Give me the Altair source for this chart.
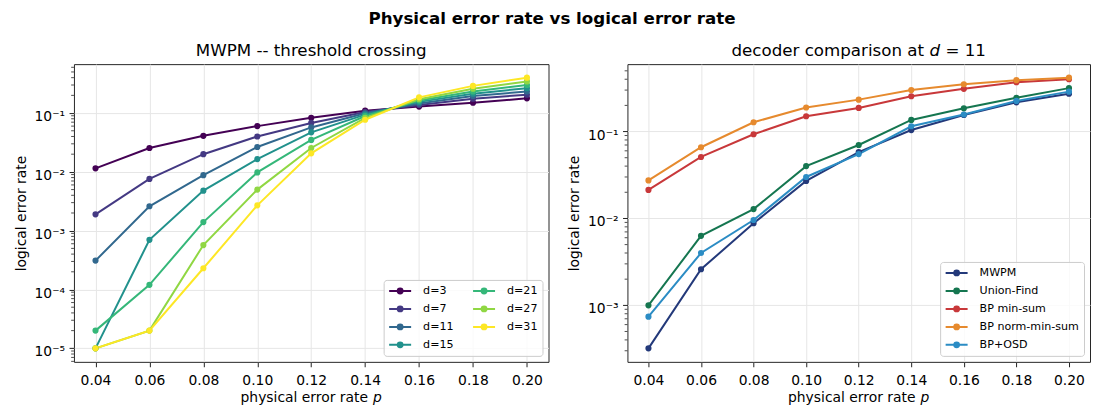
import altair as alt
import numpy as np
import pandas as pd

# ---------------- data ----------------
p_values = [0.04, 0.06, 0.08, 0.10, 0.12, 0.14, 0.16, 0.18, 0.20]

d_labels = ["d=3", "d=7", "d=11", "d=15", "d=21", "d=27", "d=31"]
rate_d3 = [0.0115, 0.0255, 0.041, 0.060, 0.083, 0.110, 0.129, 0.150, 0.178]
rate_d7 = [0.0019, 0.0076, 0.020, 0.040, 0.068, 0.104, 0.137, 0.176, 0.205]
rate_d11 = [0.00031, 0.0026, 0.0088, 0.0265, 0.057, 0.099, 0.145, 0.195, 0.233]
rate_d15 = [1.0e-5, 0.00070, 0.0048, 0.0165, 0.047, 0.094, 0.155, 0.214, 0.265]
rate_d21 = [2.0e-5, 0.00012, 0.0014, 0.0098, 0.035, 0.089, 0.163, 0.233, 0.300]
rate_d27 = [1.0e-5, 2.0e-5, 0.00057, 0.0050, 0.0255, 0.083, 0.172, 0.260, 0.345]
rate_d31 = [1.0e-5, 2.0e-5, 0.00023, 0.0027, 0.0207, 0.077, 0.185, 0.290, 0.400]
d_colors = ["#440154", "#443983", "#31688e", "#21918c", "#35b779", "#90d743", "#fde725"]

dec_labels = ["MWPM", "Union-Find", "BP min-sum", "BP norm-min-sum", "BP+OSD"]
rate_mwpm = [0.00032, 0.0026, 0.0088, 0.027, 0.058, 0.104, 0.155, 0.217, 0.273]
rate_uf = [0.0010, 0.0063, 0.0128, 0.040, 0.070, 0.136, 0.185, 0.245, 0.316]
rate_bp_ms = [0.0213, 0.051, 0.093, 0.150, 0.187, 0.255, 0.310, 0.370, 0.400]
rate_bp_nms = [0.0274, 0.066, 0.128, 0.189, 0.233, 0.300, 0.350, 0.390, 0.417]
rate_bp_osd = [0.00074, 0.0040, 0.0096, 0.030, 0.055, 0.115, 0.157, 0.225, 0.288]
dec_colors = ["#23397a", "#157650", "#c8383a", "#e68a2e", "#2b8cc4"]

suptitle = "Physical error rate vs logical error rate"
left_title = "MWPM -- threshold crossing"
right_title_parts = ["decoder comparison at", "d", "= 11"]
xtitle_parts = ["physical error rate", "p"]
ytitle = "logical error rate"

# ---------------- layout constants ----------------
FONT = "DejaVu Sans"
H = 298
W_L = 475
W_R = 463
GAP = 79
FS_TICK = 13.9
FS_TITLE = 16.7
FS_LEG = 11.1


def long_df(labels, series, key):
    rows = []
    for lab, vals in zip(labels, series):
        for p, r in zip(p_values, vals):
            rows.append({"p": p, "rate": r, key: lab})
    return pd.DataFrame(rows)


span = p_values[-1] - p_values[0]
XDOM = [p_values[0] - 0.05 * span, p_values[-1] + 0.05 * span]


def log_domain(values):
    lo = np.log10(min(values))
    hi = np.log10(max(values))
    m = 0.05 * (hi - lo)
    return [float(10 ** (lo - m)), float(10 ** (hi + m))]


SUP_EXPR = "'10\u207b' + ['\u2070','\u00b9','\u00b2','\u00b3','\u2074','\u2075','\u2076','\u2077','\u2078'][round(-log(datum.value)/LN10)]"

LEG_PATH = ("M-2,0L2,0"
            "M0.44,0A0.44,0.44,0,1,1,-0.44,0A0.44,0.44,0,1,1,0.44,0"
            "M0.16,0A0.16,0.16,0,1,1,-0.16,0A0.16,0.16,0,1,1,0.16,0")


def text_layer(txt, x, y, size, align="left", style="normal"):
    return alt.Chart(pd.DataFrame({"t": [txt]})).mark_text(
        align=align, baseline="alphabetic", fontSize=size, font=FONT,
        fontStyle=style, color="black"
    ).encode(text="t:N", x=alt.value(x), y=alt.value(y))


# DejaVu Sans advance widths (em) for centring composed texts
def em_width(s):
    w = {"a": .613, "b": .635, "c": .550, "d": .635, "e": .615, "f": .352, "g": .635,
         "h": .634, "i": .278, "l": .278, "m": .974, "n": .634, "o": .612, "p": .635,
         "r": .411, "s": .521, "t": .392, "u": .634, "y": .592, " ": .318, "=": .838,
         "1": .636}
    return sum(w.get(ch, .6) for ch in s)


def make_panel(df, key, labels, colors, columns, width, title_layers):
    ydom = log_domain(df["rate"])
    ymajor = [10.0 ** k for k in range(-8, 1) if ydom[0] <= 10.0 ** k <= ydom[1]]
    yminor = [m * 10.0 ** k for k in range(-8, 0) for m in range(2, 10)
              if ydom[0] <= m * 10.0 ** k <= ydom[1]]
    xs = alt.Scale(domain=XDOM, nice=False, zero=False)
    ys = alt.Scale(type="log", domain=ydom, nice=False)
    xaxis = alt.Axis(values=p_values, format=".2f", title=None, grid=True,
                     labelFlush=False, labelOverlap=False)
    yaxis = alt.Axis(values=ymajor, labelExpr=SUP_EXPR, title=ytitle, grid=True,
                     labelOverlap=False)

    cs = alt.Scale(domain=labels, range=colors)
    leg = alt.Legend(title=None, orient="bottom-right", offset=6, columns=columns,
                     columnPadding=15, rowPadding=5.0, padding=4.5,
                     fillColor="rgba(255,255,255,0.8)", strokeColor="#cccccc",
                     cornerRadius=3, symbolType=LEG_PATH, symbolSize=121,
                     symbolStrokeWidth=2, symbolOffset=5.5, labelOffset=16.5,
                     labelFontSize=FS_LEG, labelFont=FONT, labelColor="black")

    minor = alt.Chart(pd.DataFrame({"v": yminor})).mark_rule(
        color="#222222", strokeWidth=0.8
    ).encode(y=alt.Y("v:Q", scale=ys, axis=yaxis), x=alt.value(0), x2=alt.value(-2.8))

    lines = alt.Chart(df).mark_line(strokeWidth=2).encode(
        x=alt.X("p:Q", scale=xs, axis=xaxis),
        y=alt.Y("rate:Q", scale=ys, axis=yaxis),
        color=alt.Color(f"{key}:N", scale=cs, legend=leg),
    )
    points = alt.Chart(df).mark_circle(size=38, opacity=1).encode(
        x=alt.X("p:Q", scale=xs, axis=xaxis),
        y=alt.Y("rate:Q", scale=ys, axis=yaxis),
        color=alt.Color(f"{key}:N", scale=cs, legend=None),
    )

    # x-axis title "physical error rate p" with italic p
    tw = (em_width(xtitle_parts[0] + " ") + em_width(xtitle_parts[1])) * FS_TICK
    x0 = width / 2 - tw / 2
    xt1 = text_layer(xtitle_parts[0], x0, H + 40.5, FS_TICK)
    xt2 = text_layer(xtitle_parts[1], x0 + em_width(xtitle_parts[0] + " ") * FS_TICK,
                     H + 40.5, FS_TICK, style="italic")

    return alt.layer(minor, lines, points, xt1, xt2, *title_layers).properties(
        width=width, height=H)


left_df = long_df(d_labels, [rate_d3, rate_d7, rate_d11, rate_d15, rate_d21, rate_d27, rate_d31], "dist")
right_df = long_df(dec_labels, [rate_mwpm, rate_uf, rate_bp_ms, rate_bp_nms, rate_bp_osd], "decoder")

left_titles = [text_layer(left_title, W_L / 2, -8.3, FS_TITLE, align="center")]

a, b, c = right_title_parts
tot = (em_width(a + " ") + em_width(b) + em_width(" " + c)) * FS_TITLE
rx0 = W_R / 2 - tot / 2
right_titles = [
    text_layer(a, rx0, -8.3, FS_TITLE),
    text_layer(b, rx0 + em_width(a + " ") * FS_TITLE, -8.3, FS_TITLE, style="italic"),
    text_layer(c, rx0 + (em_width(a + " ") + em_width(b + " ")) * FS_TITLE, -8.3, FS_TITLE),
]

left = make_panel(left_df, "dist", d_labels, d_colors, 2, W_L, left_titles)
right = make_panel(right_df, "decoder", dec_labels, dec_colors, 1, W_R, right_titles)

chart = alt.hconcat(
    left, right, spacing=GAP, bounds="flush",
    title=alt.TitleParams(suptitle, fontSize=FS_TITLE, fontWeight="bold", font=FONT,
                          anchor="middle", frame="bounds", offset=14.9, color="black"),
).resolve_scale(
    color="independent", x="independent", y="independent"
).resolve_legend(
    color="independent"
).properties(
    padding={"left": 5, "top": 2, "right": 0, "bottom": 0},
    background="white",
).configure_view(
    stroke="#262626", strokeWidth=1
).configure_axis(
    labelFont=FONT, labelFontSize=FS_TICK, labelColor="black",
    tickColor="#222222", tickWidth=1, tickSize=4.9, domain=False,
    gridColor="#e6e6e6", gridWidth=1,
    titleFont=FONT, titleFontSize=FS_TICK, titleFontWeight="normal", titleColor="black",
).configure_axisX(
    labelPadding=6.4
).configure_axisY(
    labelPadding=4.5, labelOffset=3.5, titlePadding=6
)

chart.save("out.html", embed_options={"renderer": "svg", "actions": False})
